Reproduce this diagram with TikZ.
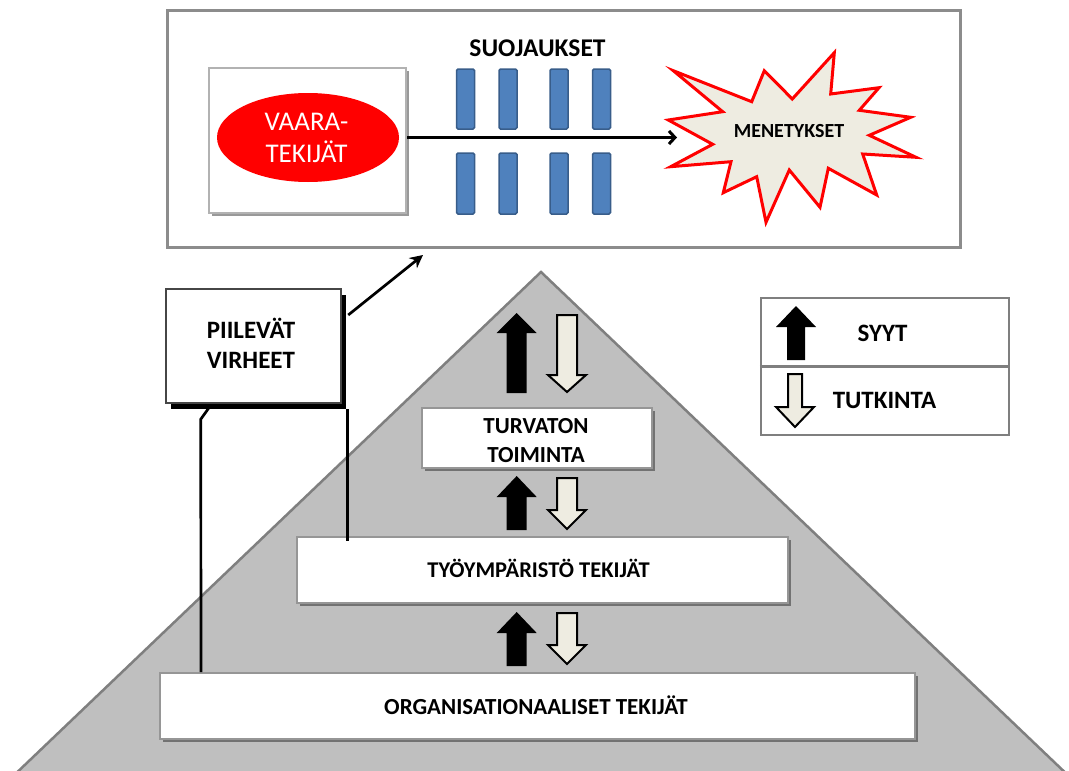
\documentclass[tikz,border=0pt]{standalone}
\usepackage{fontspec}
\setmainfont{Carlito}
\usetikzlibrary{arrows.meta,shadows,shapes.geometric}
\definecolor{frameg}{RGB}{140,140,140}
\definecolor{boxg}{RGB}{150,150,150}
\definecolor{pyrfill}{RGB}{191,191,191}
\definecolor{pyredge}{RGB}{127,127,127}
\definecolor{beige}{RGB}{238,236,225}
\definecolor{barfill}{RGB}{79,129,189}
\definecolor{baredge}{RGB}{56,93,138}
\newcommand\myUp[5]{\fill[black] (#1-20,#3) -- (#1,#2) -- (#1+20,#3) -- (#1+#5,#3) -- (#1+#5,#4) -- (#1-#5,#4) -- (#1-#5,#3) -- cycle;}
\newcommand\myDown[5]{\filldraw[fill=beige, draw=black, line width=2pt, line join=miter] (#1-#5,#2) -- (#1+#5,#2) -- (#1+#5,#3) -- (#1+19,#3) -- (#1,#4) -- (#1-19,#3) -- (#1-#5,#3) -- cycle;}
\begin{document}
\begin{tikzpicture}[x=1pt,y=-1pt,
  lbl/.style={font=\bfseries\fontsize{#1}{#1}\selectfont, inner sep=0pt, anchor=base},
  wlbl/.style={font=\fontsize{#1}{#1}\selectfont, text=white, inner sep=0pt, anchor=base},
  softshadow/.style={drop shadow={shadow xshift=3pt, shadow yshift=-3pt, fill=black, opacity=0.4}},
  levelbox/.style={draw=boxg, line width=2pt, fill=white, softshadow, inner sep=0pt},
  bar/.style={draw=baredge, fill=barfill, line width=1.5pt, rounded corners=1.5pt, minimum width=18pt, inner sep=0pt},
  conn/.style={draw=black, line width=2.7pt},
  mainarrow/.style={draw=black, line width=3pt, -{Straight Barb[length=6pt,width=13pt]}},
  pvarrow/.style={draw=black, line width=2.7pt, -{Stealth[length=13pt,width=13pt]}}
]
\useasboundingbox (0,0) rectangle (1069,771);
\clip (0,0) rectangle (1069,771);
\fill[white] (0,0) rectangle (1069,771);

% pyramid
\filldraw[fill=pyrfill, draw=pyredge, line width=2.5pt, line join=miter] (541,272) -- (1074,781) -- (8,781) -- cycle;

% top frame
\node[draw=frameg, line width=3pt, inner sep=0pt, minimum width=793pt, minimum height=237pt] (top) at (563.5,128.5) {};
\node[draw=gray!60, line width=2.5pt, fill=white, softshadow, inner sep=0pt, minimum width=197pt, minimum height=145pt] (vbox) at (307.5,140.5) {};
\node[ellipse, fill=red, inner sep=0pt, minimum width=182pt, minimum height=89pt] (haz) at (308,137.5) {};
\node[wlbl=27] (haz1) at (306.5,130) {VAARA-};
\node[wlbl=27] (haz2) at (306.5,162.5) {TEKIJÄT};

\node[lbl=25.5] (suoj) at (537.5,56.7) {SUOJAUKSET};
\node[bar, minimum height=60pt] (b1) at (465.5,99) {};
\node[bar, minimum height=60pt] (b2) at (508,99) {};
\node[bar, minimum height=60pt] (b3) at (559,99) {};
\node[bar, minimum height=60pt] (b4) at (601.5,99) {};
\node[bar, minimum height=61pt] (b5) at (465.5,183.5) {};
\node[bar, minimum height=61pt] (b6) at (508,183.5) {};
\node[bar, minimum height=61pt] (b7) at (559,183.5) {};
\node[bar, minimum height=61pt] (b8) at (601.5,183.5) {};

% star
\filldraw[fill=beige, draw=red, line width=3pt, line join=miter, miter limit=25]
  (673.3,70.7) -- (751.7,101.7) -- (764.3,70.7) -- (792.3,99) -- (834.3,52.7) -- (830.7,94)
  -- (879,87.7) -- (859.3,110.3) -- (910.7,117.3) -- (869.3,135.3) -- (916,157.3) -- (862.7,154)
  -- (876.7,195) -- (828.3,168.3) -- (820,207.3) -- (789.3,170) -- (766,222.3) -- (756.7,176.7)
  -- (723.3,192.7) -- (731,161.7) -- (670.7,166.7) -- (712.7,144.3) -- (668.3,120) -- (722.7,111.7) -- cycle;
\coordinate (starw) at (677,137.5);
\node[lbl=20] (menet) at (789,137.5) {MENETYKSET};

\draw[mainarrow] (vbox.east |- haz.east) -- (starw);

% latent errors box
\node[draw=gray!55!black, line width=2.5pt, fill=white, inner sep=0pt, minimum width=175pt, minimum height=114pt,
  drop shadow={shadow xshift=5pt, shadow yshift=-6pt, fill=black, opacity=1}] (pv) at (253.5,346) {};
\node[lbl=25] (pv1) at (251,338) {PIILEVÄT};
\node[lbl=25] (pv2) at (251,368) {VIRHEET};
\coordinate (pvtip) at (423,255);
\draw[pvarrow] ([shift={(6,-31)}]pv.east) -- (pvtip);

% level boxes
\node[levelbox, minimum width=230pt, minimum height=60pt] (turv) at (537,438) {};
\node[lbl=23] (turv1) at (536,433) {TURVATON};
\node[lbl=23] (turv2) at (536,462) {TOIMINTA};
\node[levelbox, minimum width=491pt, minimum height=66pt] (tyo) at (542.5,570) {};
\node[lbl=22.5] (tyo1) at (538.5,577) {TYÖYMPÄRISTÖ TEKIJÄT};
\node[levelbox, minimum width=755pt, minimum height=66pt] (org) at (537.5,706) {};
\node[lbl=23] (org1) at (536,714) {ORGANISATIONAALISET TEKIJÄT};

% lines from latent box
\draw[conn] ([shift={(46,1)}]pv.south west) -- ++(-10,14) -- ([shift={(42,0)}]org.north west);
\draw[conn] ([shift={(5,5)}]pv.south east) -- ([shift={(5,5)}]pv.south east |- tyo.north);

% arrows in pyramid
\myUp{516.7}{313}{333}{393}{10}
\myDown{567}{315}{375}{392}{10}
\myUp{516.7}{476}{497}{530}{10}
\myDown{567}{478}{510}{529}{10}
\myUp{516.7}{612}{633}{666}{10}
\myDown{567}{613}{645}{664}{10}

% legend
\node[draw=pyredge, line width=2.5pt, fill=white, inner sep=0pt, minimum width=248pt, minimum height=137pt] (leg) at (885,366.5) {};
\draw[draw=pyredge, line width=2.5pt] (leg.west) -- (leg.east);
\myUp{796}{306}{327}{360}{9}
\myDown{795}{374}{407}{427}{7}
\node[lbl=25] (syyt) at (882.5,341.7) {SYYT};
\node[lbl=25] (tutk) at (884.5,408.3) {TUTKINTA};
\end{tikzpicture}
\end{document}
